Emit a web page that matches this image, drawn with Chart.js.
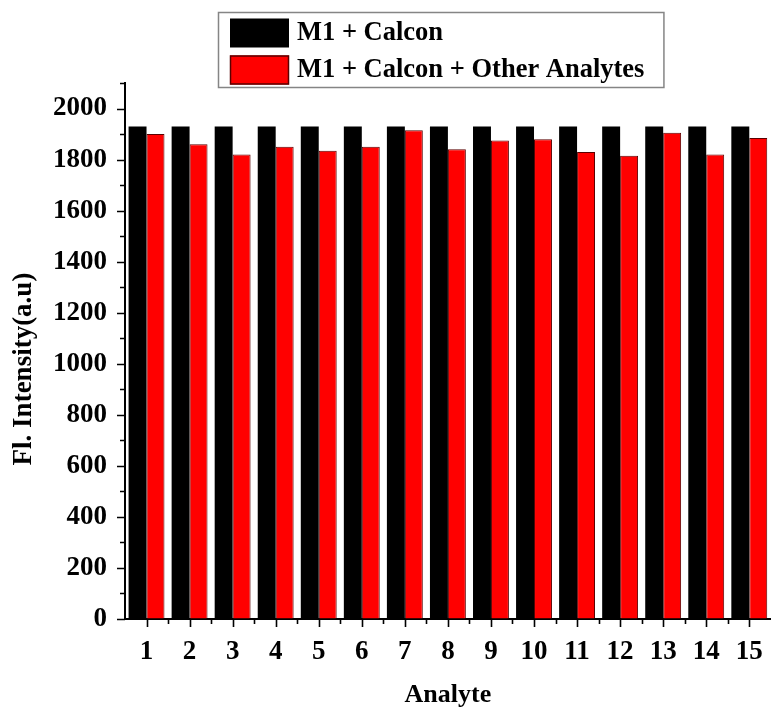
<!DOCTYPE html>
<html>
<head>
<meta charset="utf-8">
<title>Fl. Intensity by Analyte</title>
<script src="https://cdn.jsdelivr.net/npm/chart.js@4/dist/chart.umd.min.js"></script>
<style>
  html, body { margin: 0; padding: 0; background: #ffffff; overflow: hidden; }
  #wrap { position: relative; width: 780px; height: 713px; }
</style>
</head>
<body>
<div id="wrap"><canvas id="chart"></canvas></div>
<script>
// Analyte numbers along the x axis
const analytes = ['1', '2', '3', '4', '5', '6', '7', '8', '9', '10', '11', '12', '13', '14', '15'];

// Fluorescence intensity of M1 + Calcon alone
const calconIntensity = [1930, 1930, 1930, 1930, 1930, 1930, 1930, 1930, 1930, 1930, 1930, 1930, 1930, 1930, 1930];

// Fluorescence intensity after adding each other analyte
const otherAnalyteIntensity = [1900, 1860, 1820, 1850, 1835, 1850, 1915, 1840, 1875, 1880, 1830, 1815, 1905, 1820, 1885];

// Series names
const seriesLabels = ['M1 + Calcon', 'M1 + Calcon + Other Analytes'];

// Axis titles
const xTitle = 'Analyte';
const yTitle = 'Fl. Intensity(a.u)';

const SERIF = "'Liberation Serif', 'Times New Roman', serif";

// Outward tick marks: long at labelled values, short in between
const tickMarks = {
  id: 'tickMarks',
  afterDraw(chart) {
    const ctx = chart.ctx;
    const x = chart.scales.x;
    const y = chart.scales.y;
    ctx.save();
    ctx.strokeStyle = '#000';
    ctx.lineWidth = 1.6;
    ctx.beginPath();
    // y axis
    y.ticks.forEach(t => {
      const py = Math.round(y.getPixelForValue(t.value)) + 0.5;
      const len = (t.value % 200 === 0) ? 8 : 5;
      ctx.moveTo(y.right, py);
      ctx.lineTo(y.right - len, py);
    });
    // x axis
    const step = x.getPixelForValue(1) - x.getPixelForValue(0);
    for (let i = 0; i < analytes.length; i++) {
      const px = Math.round(x.getPixelForValue(i)) + 0.5;
      ctx.moveTo(px, x.top);
      ctx.lineTo(px, x.top + 8);
      if (i < analytes.length - 1) {
        const pm = Math.round(x.getPixelForValue(i) + step / 2) + 0.5;
        ctx.moveTo(pm, x.top);
        ctx.lineTo(pm, x.top + 5);
      }
    }
    ctx.stroke();
    ctx.restore();
  }
};

// Rotated y-axis title, set a little below the middle of the axis
const yAxisTitle = {
  id: 'yAxisTitle',
  afterDraw(chart) {
    const ctx = chart.ctx;
    const area = chart.chartArea;
    const y = chart.scales.y;
    ctx.save();
    ctx.translate(y.left + 24.5, (area.top + area.bottom) / 2 + 18);
    ctx.rotate(-Math.PI / 2);
    ctx.font = 'bold 27px ' + SERIF;
    ctx.fillStyle = '#000';
    ctx.textAlign = 'center';
    ctx.textBaseline = 'middle';
    ctx.fillText(yTitle, 0, 0);
    ctx.restore();
  }
};

// Boxed legend with one row per series
const boxedLegend = {
  id: 'boxedLegend',
  afterDraw(chart) {
    const ctx = chart.ctx;
    const sets = chart.data.datasets;
    const left = 218, top = 12;
    const swX = 230, swW = 59, swH = 29;
    const textX = 297;
    const rows = [33, 70];
    ctx.save();
    ctx.font = 'bold 26.5px ' + SERIF;
    let maxW = 0;
    sets.forEach(ds => { maxW = Math.max(maxW, ctx.measureText(ds.label).width); });
    const right = textX + maxW + 19;
    const bottom = 87;
    ctx.strokeStyle = '#858585';
    ctx.lineWidth = 1.5;
    ctx.strokeRect(left + 0.5, top + 0.5, right - left, bottom - top);
    sets.forEach((ds, i) => {
      const cy = rows[i];
      ctx.fillStyle = ds.backgroundColor;
      ctx.fillRect(swX, cy - swH / 2, swW, swH);
      if (ds.borderWidth) {
        ctx.strokeStyle = ds.borderColor;
        ctx.lineWidth = 1.5;
        ctx.strokeRect(swX + 0.5, cy - swH / 2 + 0.5, swW - 1, swH - 1);
      }
      ctx.fillStyle = '#000';
      ctx.textBaseline = 'middle';
      ctx.textAlign = 'left';
      ctx.fillText(ds.label, textX, cy);
    });
    ctx.restore();
  }
};

new Chart(document.getElementById('chart'), {
  type: 'bar',
  data: {
    labels: analytes,
    datasets: [
      {
        label: seriesLabels[0],
        data: calconIntensity,
        backgroundColor: '#000000',
        borderWidth: 0,
        categoryPercentage: 0.834,
        barPercentage: 1.0
      },
      {
        label: seriesLabels[1],
        data: otherAnalyteIntensity,
        backgroundColor: '#ff0000',
        borderColor: '#5a0000',
        borderWidth: 1,
        categoryPercentage: 0.834,
        barPercentage: 1.0
      }
    ]
  },
  options: {
    responsive: true,
    maintainAspectRatio: false,
    animation: false,
    layout: { padding: { top: 83, right: 6.4, bottom: 0, left: 0 } },
    plugins: {
      legend: { display: false },
      tooltip: { enabled: false }
    },
    scales: {
      x: {
        afterFit(scale) { scale.height = 94; },
        grid: { display: true, drawOnChartArea: false, drawTicks: false },
        border: { display: true, color: '#000', width: 2 },
        ticks: {
          color: '#000',
          padding: 17,
          maxRotation: 0,
          autoSkip: false,
          font: { family: SERIF, size: 27, weight: 'bold' }
        },
        title: {
          display: true,
          text: xTitle,
          color: '#000',
          font: { family: SERIF, size: 26, weight: 'bold', lineHeight: 1.2 },
          padding: { top: 0, bottom: 2 }
        }
      },
      y: {
        min: 0,
        max: 2100,
        afterFit(scale) { scale.width = 125; },
        grid: { display: true, drawOnChartArea: false, drawTicks: false },
        border: { display: true, color: '#000', width: 2 },
        ticks: {
          stepSize: 100,
          autoSkip: false,
          color: '#000',
          padding: 18,
          font: { family: SERIF, size: 27, weight: 'bold' },
          callback: (v) => (v % 200 === 0 ? v : '')
        },
        title: { display: false, text: yTitle }
      }
    }
  },
  plugins: [tickMarks, yAxisTitle, boxedLegend]
});
</script>
</body>
</html>
